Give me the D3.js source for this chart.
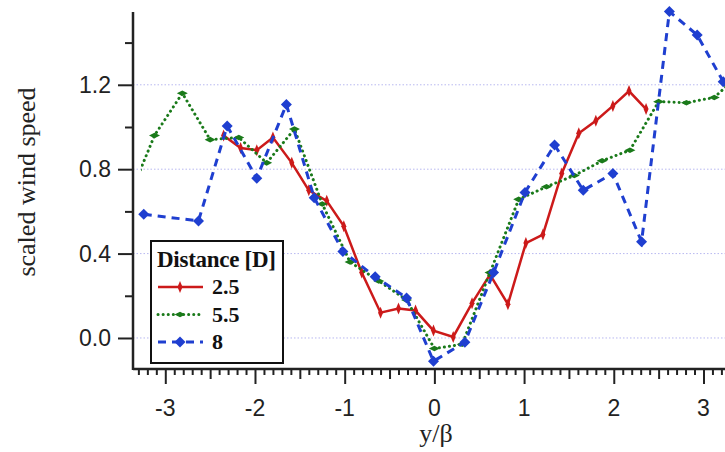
<!DOCTYPE html>
<html>
<head>
<meta charset="utf-8">
<script src="https://cdn.jsdelivr.net/npm/d3@7"></script>
<style>
  body { margin: 0; background: #fff; }
  svg { display: block; }
</style>
</head>
<body>
<div id="chart"></div>
<script>
// distance 2.5 D
const xRed = [-2.35, -2.16, -1.98, -1.80, -1.59, -1.40, -1.20, -1.01, -0.81, -0.60, -0.40, -0.21, -0.01,
              0.21, 0.42, 0.62, 0.82, 1.02, 1.21, 1.42, 1.61, 1.80, 1.99, 2.17, 2.36];
const yRed = [0.96, 0.90, 0.89, 0.95, 0.83, 0.70, 0.65, 0.53, 0.31, 0.12, 0.14, 0.13, 0.035,
              0.005, 0.165, 0.30, 0.16, 0.45, 0.49, 0.78, 0.97, 1.03, 1.10, 1.17, 1.085];
// distance 5.5 D
const xGreen = [-3.43, -3.12, -2.81, -2.50, -2.18, -1.87, -1.56, -1.25, -0.94, -0.62, -0.31, 0.00,
                0.31, 0.62, 0.94, 1.25, 1.56, 1.87, 2.18, 2.50, 2.81, 3.12, 3.43];
const yGreen = [0.64, 0.96, 1.16, 0.94, 0.95, 0.83, 0.99, 0.635, 0.36, 0.27, 0.18, -0.05,
                -0.03, 0.31, 0.657, 0.717, 0.77, 0.84, 0.89, 1.12, 1.115, 1.14, 1.26];
// distance 8 D
const xBlue = [-3.24, -2.63, -2.31, -1.98, -1.65, -1.34, -1.02, -0.66, -0.31, -0.01,
               0.34, 0.66, 1.01, 1.34, 1.66, 1.99, 2.31, 2.62, 2.93, 3.22];
const yBlue = [0.586, 0.555, 1.005, 0.757, 1.107, 0.665, 0.41, 0.29, 0.19, -0.11,
               -0.02, 0.31, 0.69, 0.915, 0.70, 0.78, 0.456, 1.547, 1.436, 1.215];

const xLabels = [-3, -2, -1, 0, 1, 2, 3];
const yLabels = [0.0, 0.4, 0.8, 1.2];
const legendNames = ["2.5", "5.5", "8"];

const width = 725, height = 452;
const plotLeft = 133, plotRight = 725, plotTop = 12, plotBottom = 369;

const x = d3.scaleLinear().domain([-3.36, 3.24]).range([plotLeft, plotRight]);
const y = d3.scaleLinear().domain([-0.147, 1.545]).range([plotBottom, plotTop]);

const svg = d3.select("#chart").append("svg")
    .attr("width", width)
    .attr("height", height);

svg.append("defs").append("clipPath")
    .attr("id", "plotclip")
  .append("rect")
    .attr("x", 141).attr("y", 0)
    .attr("width", plotRight - 141).attr("height", plotBottom);

// dotted gridlines
svg.append("g")
  .selectAll("line")
  .data(yLabels)
  .join("line")
    .attr("x1", plotLeft).attr("x2", plotRight)
    .attr("y1", d => y(d)).attr("y2", d => y(d))
    .attr("stroke", "#b8b8f0")
    .attr("stroke-width", 1)
    .attr("stroke-dasharray", "1.5,2");

// axes, Igor style ticks
const xAxis = svg.append("g").attr("transform", `translate(0,${plotBottom})`);
xAxis.call(d3.axisBottom(x).tickValues(d3.range(-33, 33).map(d => d / 10)).tickSize(6).tickFormat(""));
xAxis.call(g => g.selectAll(".tick line")
    .attr("y2", d => Math.abs(d - Math.round(d)) < 1e-6 ? 15 : Math.abs(d * 2 - Math.round(d * 2)) < 1e-6 ? 10 : 6));
xAxis.selectAll("path").remove();

const yAxis = svg.append("g").attr("transform", `translate(${plotLeft},0)`);
yAxis.call(d3.axisLeft(y).tickValues([0, 0.2, 0.4, 0.6, 0.8, 1.0, 1.2, 1.4]).tickSize(15).tickFormat(""));
yAxis.call(g => g.selectAll(".tick line")
    .attr("x2", d => Math.round(d * 10) % 4 === 0 ? -15 : -8));
yAxis.selectAll("path").remove();

svg.selectAll(".tick line").attr("stroke", "#222").attr("stroke-width", 2);

svg.append("line")
    .attr("x1", plotLeft).attr("x2", plotRight)
    .attr("y1", plotBottom).attr("y2", plotBottom)
    .attr("stroke", "#222").attr("stroke-width", 2.5);
svg.append("line")
    .attr("x1", plotLeft).attr("x2", plotLeft)
    .attr("y1", plotTop).attr("y2", plotBottom + 1)
    .attr("stroke", "#222").attr("stroke-width", 2.5);

// tick labels
svg.append("g")
  .selectAll("text")
  .data(xLabels)
  .join("text")
    .attr("x", d => x(d))
    .attr("y", 416)
    .attr("text-anchor", "middle")
    .attr("font-family", "Liberation Sans, Arial, sans-serif")
    .attr("font-size", 23)
    .attr("fill", "#222")
    .text(d => d);

svg.append("g")
  .selectAll("text")
  .data(yLabels)
  .join("text")
    .attr("x", 111)
    .attr("y", d => y(d) + 8)
    .attr("text-anchor", "end")
    .attr("font-family", "Liberation Sans, Arial, sans-serif")
    .attr("font-size", 23)
    .attr("fill", "#222")
    .text(d => d.toFixed(1));

// axis titles
svg.append("text")
    .attr("transform", "translate(35,182) rotate(-90)")
    .attr("text-anchor", "middle")
    .attr("font-family", "Liberation Serif, Times New Roman, serif")
    .attr("font-size", 26)
    .attr("fill", "#222")
    .text("scaled wind speed");

svg.append("text")
    .attr("x", 436)
    .attr("y", 442)
    .attr("text-anchor", "middle")
    .attr("font-family", "Liberation Serif, Times New Roman, serif")
    .attr("font-size", 26)
    .attr("fill", "#222")
    .text("y/β");

// series
const series = [
  {xs: xRed, ys: yRed, color: "#cc1a1a", dash: null, width: 2.5, shape: "M0,-6L2.5,0L0,6L-2.5,0Z"},
  {xs: xGreen, ys: yGreen, color: "#1a7a1a", dash: "0.1,5", width: 3, shape: "M-5.5,0L0,-2.8L5.5,0L0,2.8Z"},
  {xs: xBlue, ys: yBlue, color: "#1f3fd0", dash: "8,6", width: 3, shape: "M0,-5.5L5.5,0L0,5.5L-5.5,0Z"}
];

const line = d3.line().x(d => x(d[0])).y(d => y(d[1]));
const capFor = s => s.dash === "0.1,5" ? "round" : "butt";

series.forEach(s => {
  const pts = s.xs.map((v, i) => [v, s.ys[i]]);
  svg.append("path")
      .datum(pts)
      .attr("clip-path", "url(#plotclip)")
      .attr("fill", "none")
      .attr("stroke", s.color)
      .attr("stroke-width", s.width)
      .attr("stroke-dasharray", s.dash)
      .attr("stroke-linecap", capFor(s))
      .attr("d", line);
  svg.append("g")
    .selectAll("path")
    .data(pts.filter(d => x(d[0]) > 136 && x(d[0]) < 728))
    .join("path")
      .attr("transform", d => `translate(${x(d[0])},${y(d[1])})`)
      .attr("d", s.shape)
      .attr("fill", s.color);
});

// legend
const leg = svg.append("g");
leg.append("rect")
    .attr("x", 151).attr("y", 241)
    .attr("width", 132).attr("height", 122)
    .attr("fill", "#fff")
    .attr("stroke", "#111")
    .attr("stroke-width", 2);
leg.append("text")
    .attr("x", 157).attr("y", 267)
    .attr("font-family", "Liberation Serif, Times New Roman, serif")
    .attr("font-weight", "bold")
    .attr("font-size", 23)
    .attr("textLength", 119)
    .attr("fill", "#111")
    .text("Distance [D]");

const entry = leg.selectAll("g.entry")
  .data(series)
  .join("g")
    .attr("class", "entry")
    .attr("transform", (d, i) => `translate(0,${287 + i * 27.5})`);
entry.append("line")
    .attr("x1", 158).attr("x2", 203)
    .attr("stroke", d => d.color)
    .attr("stroke-width", d => d.width)
    .attr("stroke-dasharray", d => d.dash)
    .attr("stroke-linecap", capFor);
entry.append("path")
    .attr("transform", "translate(180,0)")
    .attr("d", d => d.shape)
    .attr("fill", d => d.color);
entry.append("text")
    .attr("x", 212).attr("y", 7)
    .attr("font-family", "Liberation Serif, Times New Roman, serif")
    .attr("font-weight", "bold")
    .attr("font-size", 22)
    .attr("fill", "#111")
    .text((d, i) => legendNames[i]);
</script>
</body>
</html>
